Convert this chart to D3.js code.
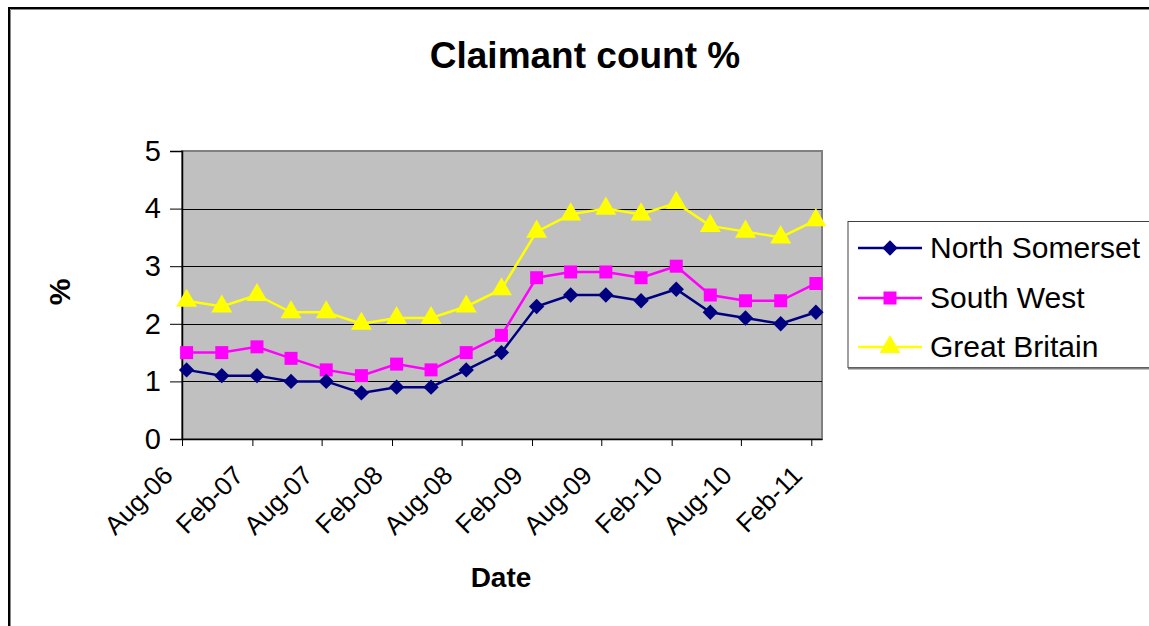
<!DOCTYPE html>
<html>
<head>
<meta charset="utf-8">
<style>
  body { margin: 0; background: #fff; }
  svg { display: block; font-family: "Liberation Sans", Arial, sans-serif; }
</style>
</head>
<body>
<script src="https://cdn.jsdelivr.net/npm/d3@7"></script>
<script>
// data, quarterly readings
var dates = ["2006-08-13", "2006-11-13", "2007-02-13", "2007-05-13", "2007-08-13",
             "2007-11-13", "2008-02-13", "2008-05-13", "2008-08-13", "2008-11-13",
             "2009-02-13", "2009-05-13", "2009-08-13", "2009-11-13", "2010-02-13",
             "2010-05-13", "2010-08-13", "2010-11-13", "2011-02-13"];
var northSomerset = [1.2, 1.1, 1.1, 1.0, 1.0, 0.8, 0.9, 0.9, 1.2, 1.5,
                     2.3, 2.5, 2.5, 2.4, 2.6, 2.2, 2.1, 2.0, 2.2];
var southWest = [1.5, 1.5, 1.6, 1.4, 1.2, 1.1, 1.3, 1.2, 1.5, 1.8,
                 2.8, 2.9, 2.9, 2.8, 3.0, 2.5, 2.4, 2.4, 2.7];
var greatBritain = [2.4, 2.3, 2.5, 2.2, 2.2, 2.0, 2.1, 2.1, 2.3, 2.6,
                    3.6, 3.9, 4.0, 3.9, 4.1, 3.7, 3.6, 3.5, 3.8];
var seriesNames = ["North Somerset", "South West", "Great Britain"];
var tickDates = ["2006-08-01", "2007-02-01", "2007-08-01", "2008-02-01", "2008-08-01",
                 "2009-02-01", "2009-08-01", "2010-02-01", "2010-08-01", "2011-02-01"];
var yTicks = [0, 1, 2, 3, 4, 5];

var parse = d3.timeParse("%Y-%m-%d");
var fmt = d3.timeFormat("%b-%y");

var W = 1149, H = 626;
var plot = {left: 182, right: 822, top: 151, bottom: 439};

var svg = d3.select("body").append("svg")
    .attr("width", W)
    .attr("height", H);

// outer chart frame (runs off the right and bottom edges)
svg.append("rect")
    .attr("x", 9).attr("y", 8)
    .attr("width", W + 20).attr("height", H + 20)
    .attr("fill", "#fff")
    .attr("stroke", "#000")
    .attr("stroke-width", 2);
svg.append("path")
    .attr("d", "M10.5," + H + "V9.5H" + W)
    .attr("fill", "none")
    .attr("stroke", "#888")
    .attr("stroke-width", 1);

var x = d3.scaleTime()
    .domain([parse("2006-08-01"), parse("2011-03-01")])
    .range([plot.left, plot.right]);
var y = d3.scaleLinear()
    .domain([0, 5])
    .range([plot.bottom, plot.top]);

// plot area
svg.append("rect")
    .attr("x", plot.left).attr("y", plot.top)
    .attr("width", plot.right - plot.left)
    .attr("height", plot.bottom - plot.top)
    .attr("fill", "#c0c0c0")
    .attr("stroke", "#808080")
    .attr("stroke-width", 2);

// gridlines
svg.append("g")
    .selectAll("line")
    .data(yTicks.filter(function(d) { return d > 0 && d < 5; }))
    .enter().append("line")
    .attr("x1", plot.left).attr("x2", plot.right)
    .attr("y1", function(d) { return Math.round(y(d)) + 0.5; })
    .attr("y2", function(d) { return Math.round(y(d)) + 0.5; })
    .attr("stroke", "#000")
    .attr("stroke-width", 1);

// y axis
var yAxis = svg.append("g")
    .attr("transform", "translate(" + plot.left + ",0)")
    .call(d3.axisLeft(y).tickValues(yTicks).tickSize(12).tickPadding(9).tickFormat(d3.format("d")));
yAxis.selectAll("text").style("font-size", "29px").attr("fill", "#000")
    .attr("font-family", "Liberation Sans, Arial, sans-serif");
yAxis.selectAll("line").attr("stroke", "#000");
yAxis.select(".domain").attr("stroke", "#000").attr("stroke-width", 1.5);

// x axis
var xAxis = svg.append("g")
    .attr("transform", "translate(0," + plot.bottom + ")")
    .call(d3.axisBottom(x).tickValues(tickDates.map(parse)).tickSize(7).tickSizeOuter(0).tickFormat(fmt));
xAxis.select(".domain").attr("stroke", "#000").attr("stroke-width", 1.5);
xAxis.selectAll("line").attr("stroke", "#000");
xAxis.selectAll("text")
    .style("font-size", "26px")
    .attr("fill", "#000")
    .attr("font-family", "Liberation Sans, Arial, sans-serif")
    .style("text-anchor", "end")
    .attr("dy", null)
    .attr("y", 0)
    .attr("transform", "translate(-8,38) rotate(-45)");

// series
var diamond = d3.symbol().type(d3.symbolSquare).size(118);
var series = [
  {name: seriesNames[0], values: northSomerset, color: "#000080", sym: diamond, rot: 45},
  {name: seriesNames[1], values: southWest, color: "#ff00ff", sym: d3.symbol().type(d3.symbolSquare).size(169), rot: 0},
  {name: seriesNames[2], values: greatBritain, color: "#ffff00", sym: d3.symbol().type(d3.symbolTriangle).size(190), rot: 0}
];

var line = d3.line()
    .x(function(d) { return x(d.date); })
    .y(function(d) { return y(d.v); });

// draw back to front
series.slice().reverse().forEach(function(s) {
  var pts = dates.map(function(d, i) { return {date: parse(d), v: s.values[i]}; });
  svg.append("path")
      .datum(pts)
      .attr("fill", "none")
      .attr("stroke", s.color)
      .attr("stroke-width", 2.5)
      .attr("d", line);
  svg.append("g").selectAll("path")
      .data(pts)
      .enter().append("path")
      .attr("transform", function(d) { return "translate(" + x(d.date) + "," + y(d.v) + ") rotate(" + s.rot + ")"; })
      .attr("d", s.sym)
      .attr("fill", s.color);
});

// titles
svg.append("text")
    .attr("x", 585).attr("y", 68)
    .attr("text-anchor", "middle")
    .style("font-size", "37px")
    .style("font-weight", "bold")
    .text("Claimant count %");

svg.append("text")
    .attr("transform", "translate(70,292) rotate(-90)")
    .attr("text-anchor", "middle")
    .style("font-size", "30px")
    .style("font-weight", "bold")
    .text("%");

svg.append("text")
    .attr("x", 501).attr("y", 587)
    .attr("text-anchor", "middle")
    .style("font-size", "28px")
    .style("font-weight", "bold")
    .text("Date");

// legend
var lg = svg.append("g");
lg.append("rect")
    .attr("x", 848).attr("y", 221.5)
    .attr("width", 400).attr("height", 146)
    .attr("fill", "#fff")
    .attr("stroke", "#404040")
    .attr("stroke-width", 1);
lg.append("line")
    .attr("x1", 848).attr("x2", W)
    .attr("y1", 368.5).attr("y2", 368.5)
    .attr("stroke", "#808080").attr("stroke-width", 2);

var rowY = [248, 298, 347];
series.forEach(function(s, i) {
  var g = lg.append("g").attr("transform", "translate(0," + rowY[i] + ")");
  g.append("line")
      .attr("x1", 858).attr("x2", 922)
      .attr("stroke", s.color).attr("stroke-width", 2.5);
  g.append("path")
      .attr("transform", "translate(890,0) rotate(" + s.rot + ")")
      .attr("d", s.sym)
      .attr("fill", s.color);
  g.append("text")
      .attr("x", 930).attr("y", 10)
      .style("font-size", "30px")
      .text(s.name);
});
</script>
</body>
</html>
